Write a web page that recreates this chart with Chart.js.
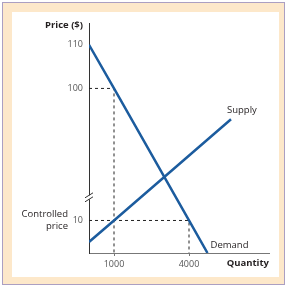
<!DOCTYPE html>
<html>
<head>
<meta charset="utf-8">
<script src="https://cdn.jsdelivr.net/npm/chart.js@4/dist/chart.umd.min.js"></script>
<style>
  html, body { margin: 0; padding: 0; background: #fff; }
  #frame { position: absolute; left: 2px; top: 2px; width: 283px; height: 283px; box-sizing: border-box; border: 1px solid #ab9fc2; background: #fde8ca; }
  #panel { position: absolute; left: 12px; top: 12px; width: 267px; height: 265px; background: #fff; }
</style>
</head>
<body>
<div id="frame"></div>
<div id="panel"><canvas id="chart"></canvas></div>
<script>
// values
const quantityTicks = [1000, 4000];
const priceTicks = [10, 100, 110];
const demandQuantity = [0, 1000, 4000, 4740];
const demandPrice = [110, 100, 10, 0];
const supplyQuantity = [0, 1000, 5680];
const supplyPrice = [3.4, 10, 79];
const guideQuantity = [1000, 4000];
const guidePrice = [100, 10];

// broken price axis: piecewise mapping from price to axis units
const priceKnots = [0, 10, 100, 110];
const axisKnots = [0, 33, 167, 211.3];
function toAxis(p) {
    for (let i = 1; i < priceKnots.length; i++) {
        if (p <= priceKnots[i] || i === priceKnots.length - 1) {
            const t = (p - priceKnots[i - 1]) / (priceKnots[i] - priceKnots[i - 1]);
            return axisKnots[i - 1] + t * (axisKnots[i] - axisKnots[i - 1]);
        }
    }
}

const blue = '#1c5c9e';
const textFont = '"Open Sans", "Noto Sans", sans-serif';

function series(qs, ps) {
    return qs.map((q, i) => ({ x: q, y: toAxis(ps[i]) }));
}

const datasets = [
    { label: 'Demand', data: series(demandQuantity, demandPrice), borderColor: blue, borderWidth: 2.5 },
    { label: 'Supply', data: series(supplyQuantity, supplyPrice), borderColor: blue, borderWidth: 2.5 }
];
guideQuantity.forEach((q, i) => {
    datasets.push({
        label: 'guide' + i,
        data: [{ x: 0, y: toAxis(guidePrice[i]) }, { x: q, y: toAxis(guidePrice[i]) }, { x: q, y: 0 }],
        borderColor: '#222',
        borderWidth: 1,
        borderDash: [3, 3]
    });
});
datasets.forEach(d => { d.showLine = true; d.pointRadius = 0; d.fill = false; });

const labelsPlugin = {
    id: 'labels',
    afterDraw(chart) {
        const ctx = chart.ctx;
        const xs = chart.scales.x, ys = chart.scales.y;
        const ax = xs.getPixelForValue(0);

        // axis break
        const by = ys.getPixelForValue(56.5);
        ctx.save();
        ctx.fillStyle = '#fff';
        ctx.fillRect(ax - 2, by - 2, 4, 4);
        ctx.strokeStyle = '#333';
        ctx.lineWidth = 1;
        [-2, 2].forEach(o => {
            ctx.beginPath();
            ctx.moveTo(ax - 4, by + o + 2.5);
            ctx.lineTo(ax + 4, by + o - 2.5);
            ctx.stroke();
        });

        ctx.textBaseline = 'middle';
        ctx.fillStyle = '#231f20';
        ctx.font = 'bold 9.5px ' + textFont;
        ctx.textAlign = 'right';
        ctx.fillText('Price ($)', ax - 6, chart.chartArea.top + 2);
        ctx.fillText('Quantity', chart.chartArea.right, chart.chartArea.bottom + 10);

        ctx.font = '9.5px ' + textFont;
        const p10 = ys.getPixelForValue(toAxis(10));
        ctx.fillText('Controlled', ax - 21, p10 - 6);
        ctx.fillText('price', ax - 21, p10 + 6);

        ctx.textAlign = 'left';
        const sLast = supplyQuantity.length - 1;
        ctx.fillText('Supply', xs.getPixelForValue(supplyQuantity[sLast]) - 4,
            ys.getPixelForValue(toAxis(supplyPrice[sLast])) - 9);
        const dLast = demandQuantity.length - 1;
        ctx.fillText('Demand', xs.getPixelForValue(demandQuantity[dLast]) + 3,
            ys.getPixelForValue(toAxis(demandPrice[dLast])) - 8);
        ctx.restore();
    }
};

new Chart(document.getElementById('chart'), {
    type: 'scatter',
    data: { datasets: datasets },
    options: {
        responsive: true,
        maintainAspectRatio: false,
        animation: false,
        layout: { padding: { top: 8, right: 10, left: 0, bottom: 0 } },
        plugins: { legend: { display: false }, tooltip: { enabled: false } },
        scales: {
            x: {
                type: 'linear',
                min: 0,
                max: 7200,
                afterBuildTicks: s => { s.ticks = quantityTicks.map(v => ({ value: v })); },
                afterFit: s => { s.height = 24; },
                grid: { drawOnChartArea: false, drawTicks: true, tickLength: 3, color: '#777' },
                border: { color: '#777', width: 1 },
                ticks: {
                    autoSkip: false,
                    maxRotation: 0,
                    padding: 3,
                    color: '#555',
                    font: { family: textFont, size: 9 },
                    callback: (v, i) => quantityTicks[i]
                }
            },
            y: {
                type: 'linear',
                min: 0,
                max: 233,
                afterBuildTicks: s => { s.ticks = priceTicks.map(p => ({ value: toAxis(p) })); },
                afterFit: s => { s.width = 77; },
                grid: { display: false, drawTicks: false },
                border: { color: '#333', width: 1 },
                ticks: {
                    autoSkip: false,
                    padding: 6,
                    color: '#555',
                    font: { family: textFont, size: 9 },
                    callback: (v, i) => priceTicks[i]
                }
            }
        }
    },
    plugins: [labelsPlugin]
});
</script>
</body>
</html>
